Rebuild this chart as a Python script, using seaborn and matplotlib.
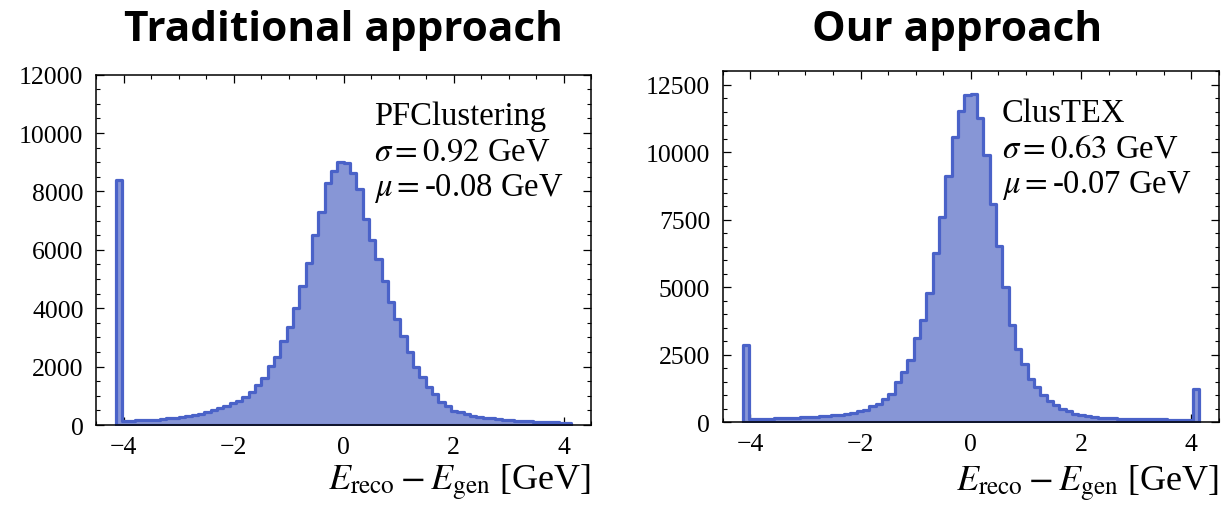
import numpy as np
import pandas as pd
import matplotlib
matplotlib.use("Agg")
import matplotlib.pyplot as plt
import seaborn as sns
from matplotlib.ticker import MultipleLocator, AutoMinorLocator

# Binning shared by both energy-residual histograms (GeV)
bin_edges = np.linspace(-4.14, 4.14, 73)
bin_centers = 0.5 * (bin_edges[:-1] + bin_edges[1:])

# Counts per bin: traditional PF clustering
pf_counts = [
    8380, 126, 137, 160, 160, 171, 183, 206, 228, 251,
    274, 297, 343, 388, 457, 525, 571, 662, 742, 834,
    971, 1119, 1370, 1599, 2010, 2318, 2878, 3346, 3997, 4774,
    5539, 6520, 7286, 8280, 8700, 9000, 8960, 8630, 8100, 7058,
    6350, 5687, 4920, 4203, 3632, 3061, 2490, 1976, 1633, 1290,
    1062, 799, 640, 491, 434, 377, 320, 285, 250, 225,
    200, 180, 160, 145, 130, 120, 110, 100, 95, 90,
    85, 80,
]

# Counts per bin: ClusTEX
clustex_counts = [
    2850, 123, 135, 135, 135, 148, 160, 160, 172, 184,
    197, 209, 221, 234, 258, 271, 295, 357, 418, 467,
    615, 664, 873, 1033, 1488, 1845, 2312, 3124, 3801, 4772,
    6261, 7601, 9114, 10566, 11513, 12100, 12150, 11267, 9889, 8093,
    6531, 4994, 3616, 2718, 2140, 1611, 1304, 996, 775, 627,
    504, 406, 320, 258, 221, 197, 172, 160, 150, 140,
    135, 130, 125, 120, 115, 110, 105, 100, 95, 90,
    85, 1250,
]

panel_titles = ["Traditional approach", "Our approach"]
method_names = ["PFClustering", "ClusTEX"]
sigmas = [0.92, 0.63]
mus = [-0.08, -0.07]
y_limits = [12000, 13000]
y_major_steps = [2000, 2500]
x_ticks = [-4, -2, 0, 2, 4]

FILL = "#8796d6"
EDGE = "#4a62c8"

sns.set_theme(style="ticks")
plt.rcParams.update({
    "font.family": ["Liberation Serif", "DejaVu Serif"],
    "mathtext.fontset": "stix",
    "text.color": "black",
    "axes.labelcolor": "black",
    "axes.unicode_minus": True,
    "axes.linewidth": 1.1,
    "axes.edgecolor": "black",
    "xtick.direction": "in",
    "ytick.direction": "in",
    "xtick.top": True,
    "ytick.right": True,
    "xtick.major.size": 5.5,
    "ytick.major.size": 5.5,
    "xtick.minor.size": 3.0,
    "ytick.minor.size": 3.0,
    "xtick.major.width": 0.9,
    "ytick.major.width": 0.9,
    "xtick.minor.width": 0.8,
    "ytick.minor.width": 0.8,
    "xtick.color": "black",
    "ytick.color": "black",
    "xtick.labelcolor": "black",
    "ytick.labelcolor": "black",
    "xtick.labelsize": 18.5,
    "ytick.labelsize": 18.5,
    "xtick.major.pad": 8,
    "ytick.major.pad": 9,
})

fig = plt.figure(figsize=(12.25, 5.06), dpi=100)
axes = [
    fig.add_axes([0.0784, 0.1581, 0.4041, 0.6923]),
    fig.add_axes([0.5900, 0.1634, 0.4049, 0.6943]),
]
all_counts = [pf_counts, clustex_counts]
title_pads = [25, 22.5]
title_x = [0.5, 0.473]
xlabel_pads = [2.5, 5.0]

for i, ax in enumerate(axes):
    hist_df = pd.DataFrame({"residual": bin_centers, "count": all_counts[i]})
    sns.histplot(
        data=hist_df, x="residual", weights="count", bins=bin_edges.tolist(),
        element="step", fill=True, ax=ax,
        facecolor=FILL, edgecolor=EDGE, linewidth=2.3, alpha=1.0,
    )
    ax.set_xlim(-4.5, 4.5)
    ax.set_ylim(0, y_limits[i])
    ax.set_xticks(x_ticks)
    ax.xaxis.set_minor_locator(AutoMinorLocator(4))
    ax.yaxis.set_major_locator(MultipleLocator(y_major_steps[i]))
    ax.yaxis.set_minor_locator(MultipleLocator(500))
    ax.tick_params(which="both", top=True, right=True, direction="in")
    ax.set_ylabel("")
    ax.set_xlabel(r"$E_{\rm reco} - E_{\rm gen}$ [GeV]", fontsize=26,
                  loc="right", labelpad=xlabel_pads[i])
    ax.set_title(panel_titles[i], fontsize=30.5, fontweight="bold",
                 family=["Open Sans", "Noto Sans CJK KR", "DejaVu Sans"],
                 pad=title_pads[i], x=title_x[i], color="black")
    label = (f"{method_names[i]}\n"
             f"$\\sigma = {sigmas[i]:.2f}$ GeV\n"
             f"$\\mu = ${mus[i]:.2f} GeV")
    ax.text(0.562, 0.925, label, transform=ax.transAxes, ha="left", va="top",
            fontsize=23.5, linespacing=1.2)
    for side in ax.spines.values():
        side.set_visible(True)
        side.set_linewidth(1.1)

fig.savefig("out.png", dpi=100)
